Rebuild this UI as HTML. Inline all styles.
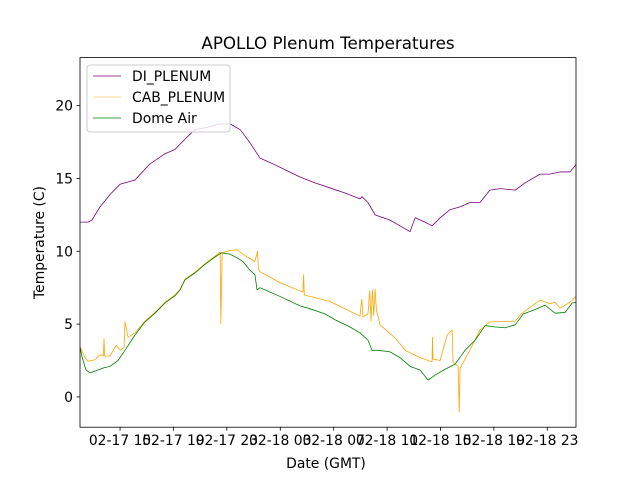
<!DOCTYPE html>
<html><head><meta charset="utf-8"><style>
body{margin:0;background:#fff}
svg text{font-family:"DejaVu Sans","Liberation Sans",sans-serif;fill:#000}
</style></head><body>
<svg id="chart" width="640" height="480" viewBox="0 0 640 480">
<rect width="640" height="480" fill="#fff"/>
<text x="328" y="49" font-size="16.7" text-anchor="middle">APOLLO Plenum Temperatures</text>
<g id="plot"></g>
<g id="axes"></g>
<text x="326" y="468" font-size="13.9" text-anchor="middle">Date (GMT)</text>
<text transform="translate(44,242.5) rotate(-90)" font-size="13.9" text-anchor="middle">Temperature (C)</text>
<g>
<rect x="87" y="65" width="143" height="67" rx="3" fill="#fff" fill-opacity="0.8" stroke="#ccc" stroke-width="1"/>
<line x1="93" y1="76" x2="121" y2="76" stroke="purple" stroke-width="0.8"/>
<text x="132" y="81" font-size="13.9">DI_PLENUM</text>
<line x1="93" y1="97" x2="121" y2="97" stroke="orange" stroke-opacity="0.6" stroke-width="0.8"/>
<text x="132" y="102" font-size="13.9">CAB_PLENUM</text>
<line x1="93" y1="118" x2="121" y2="118" stroke="green" stroke-width="0.8"/>
<text x="132" y="123" font-size="13.9">Dome Air</text>
</g>
</svg>
<script>
const diHours=[12.0,12.6,12.9,13.5,14.25,15.0,16.12,17.24,18.37,19.12,19.87,20.6,21.74,22.5,23.24,24.0,24.73,25.48,26.23,27.36,28.48,29.6,30.73,31.85,32.97,33.12,33.57,34.1,35.2,35.97,36.72,37.1,37.84,38.37,38.97,39.7,40.47,41.2,41.96,42.7,43.46,44.6,45.34,46.46,47.2,47.96,48.7,49.15];
const diTemps=[12.0,12.0,12.15,13.05,13.9,14.6,14.9,16.0,16.7,17.0,17.7,18.35,18.55,18.75,18.75,18.35,17.45,16.4,16.1,15.6,15.1,14.7,14.35,14.0,13.6,13.75,13.35,12.5,12.15,11.75,11.35,12.3,12.0,11.75,12.3,12.85,13.05,13.35,13.35,14.2,14.3,14.2,14.7,15.3,15.3,15.45,15.45,15.95];
const cabHours=[12.0,12.37,12.6,13.12,13.5,13.75,13.8,13.85,14.25,14.7,15.0,15.3,15.37,15.6,16.12,16.87,17.62,18.37,19.12,19.5,19.87,20.6,21.36,22.1,22.5,22.55,22.65,23.24,23.76,24.36,25.1,25.3,25.36,25.48,26.98,28.7,28.75,28.8,30.73,32.97,33.1,33.2,33.57,33.7,33.8,33.9,34.0,34.1,34.2,34.47,35.6,36.35,37.47,38.37,38.4,38.44,38.97,39.5,39.87,39.94,40.32,40.4,40.47,40.6,41.2,41.96,42.7,44.6,45.1,46.46,47.2,47.58,47.96,48.7,49.15];
const cabTemps=[3.45,2.7,2.45,2.55,2.9,2.8,4.0,2.8,2.8,3.55,3.2,3.4,5.15,4.1,4.4,5.2,5.8,6.5,7.0,7.4,8.1,8.55,9.15,9.65,9.95,5.0,9.9,10.05,10.1,9.7,9.3,10.0,8.8,8.6,7.85,7.2,8.4,7.0,6.55,5.55,6.7,5.5,5.7,7.3,5.2,7.35,5.6,7.4,6.0,4.95,4.05,3.2,2.7,2.4,4.1,2.6,2.5,4.25,4.6,2.4,2.1,-1.05,2.0,2.2,3.2,4.6,5.15,5.2,5.75,6.65,6.4,6.5,6.1,6.5,6.9];
const domeHours=[12.0,12.15,12.45,12.75,13.2,13.8,14.25,14.85,15.37,16.12,16.87,17.62,18.37,19.12,19.5,19.87,20.6,21.36,22.1,22.6,23.24,23.76,24.2,24.73,25.1,25.26,25.48,25.86,26.98,28.48,29.23,30.35,31.1,32.22,32.97,33.57,33.87,34.33,35.2,35.97,36.72,37.47,38.07,38.6,39.35,40.1,40.84,41.6,42.34,43.1,43.84,44.6,45.2,46.1,46.84,47.58,48.33,48.86,49.15];
const domeTemps=[3.4,2.75,1.85,1.65,1.8,2.0,2.1,2.5,3.2,4.25,5.15,5.75,6.45,6.95,7.35,8.05,8.5,9.1,9.6,9.9,9.8,9.55,9.3,8.7,8.4,7.35,7.5,7.35,6.9,6.25,6.05,5.7,5.3,4.8,4.4,3.9,3.2,3.2,3.1,2.7,2.1,1.85,1.15,1.5,1.9,2.25,3.2,3.9,4.9,4.8,4.75,4.95,5.7,6.0,6.3,5.75,5.8,6.45,6.5];
const xTickHours=[15,19,23,27,31,35,39,43,47];
const xTickLabels=["02-17 15","02-17 19","02-17 23","02-18 03","02-18 07","02-18 11","02-18 15","02-18 19","02-18 23"];
const yTicks=[0,5,10,15,20];

const L=80,R=576,T=57.6,B=427.2;
const xMin=12.0,xMax=49.15,yMin=-2.08,yMax=23.3;
const sx=h=>L+(h-xMin)/(xMax-xMin)*(R-L);
const sy=v=>B-(v-yMin)/(yMax-yMin)*(B-T);
const NS="http://www.w3.org/2000/svg";
const plot=document.getElementById('plot'),axes=document.getElementById('axes');
function mk(tag,attrs,parent){const e=document.createElementNS(NS,tag);for(const k in attrs)e.setAttribute(k,attrs[k]);parent.appendChild(e);return e;}
function series(hs,vs,color,name){
  const d=hs.map((h,i)=>(i?'L':'M')+sx(h).toFixed(2)+','+sy(vs[i]).toFixed(2)).join('');
  const p=mk('path',{d:d,fill:'none',stroke:color,'stroke-width':0.8,'stroke-linejoin':'round'},plot);
  
  
}
series(diHours,diTemps,'purple','di-plenum-line');
series(cabHours,cabTemps,'orange','cab-plenum-line');
series(domeHours,domeTemps,'green','dome-air-line');
const frame=mk('rect',{x:L,y:T,width:R-L,height:B-T,fill:'none',stroke:'#000','stroke-width':0.8},axes);


xTickHours.forEach((h,i)=>{
  const x=sx(h);
  const t=mk('line',{x1:x,y1:B,x2:x,y2:B+3.5,stroke:'#000','stroke-width':0.8},axes);
  
  
  const lb=mk('text',{x:x,y:B+18,'font-size':13.9,'text-anchor':'middle'},axes);
  lb.textContent=xTickLabels[i];
  
  
});
yTicks.forEach(v=>{
  const y=sy(v);
  const t=mk('line',{x1:L-3.5,y1:y,x2:L,y2:y,stroke:'#000','stroke-width':0.8},axes);
  
  
  const lb=mk('text',{x:L-7,y:y+5,'font-size':13.9,'text-anchor':'end'},axes);
  lb.textContent=v;
  
  
});
</script>
</body></html>
